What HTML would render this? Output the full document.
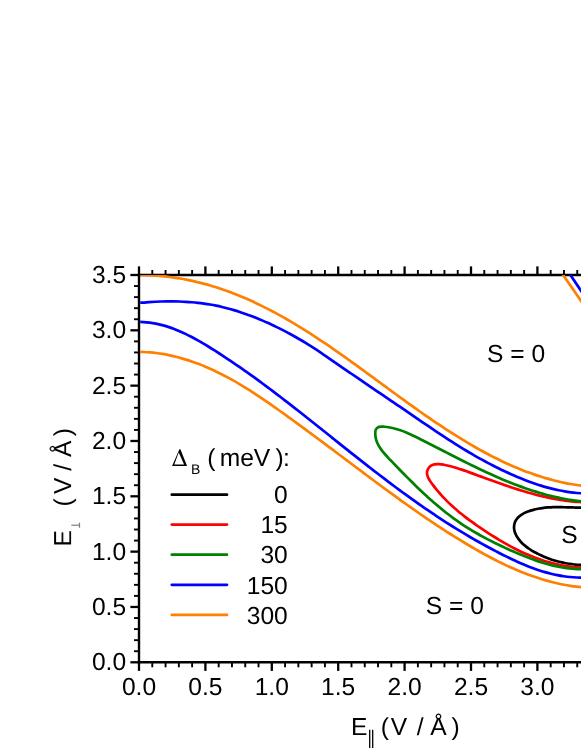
<!DOCTYPE html>
<html><head><meta charset="utf-8"><title>Phase diagram</title>
<style>
html,body{margin:0;padding:0;background:#fff;}
body{width:581px;height:752px;overflow:hidden;}
svg{display:block;}
text{font-family:"Liberation Sans",sans-serif;font-size:24.6px;fill:#000;text-rendering:geometricPrecision;}
</style></head><body>
<svg width="581" height="752" viewBox="0 0 581 752">
<rect width="581" height="752" fill="#fff"/>
<defs><clipPath id="c"><rect x="140.2" y="275" width="460" height="386"/></clipPath></defs>
<g stroke="#000" fill="none">
<line x1="139.00" y1="662.30" x2="139.00" y2="670.90" stroke-width="2.3"/>
<line x1="139.00" y1="275.00" x2="139.00" y2="266.40" stroke-width="2.3"/>
<line x1="152.28" y1="662.30" x2="152.28" y2="667.30" stroke-width="1.9"/>
<line x1="152.28" y1="275.00" x2="152.28" y2="270.00" stroke-width="1.9"/>
<line x1="165.56" y1="662.30" x2="165.56" y2="667.30" stroke-width="1.9"/>
<line x1="165.56" y1="275.00" x2="165.56" y2="270.00" stroke-width="1.9"/>
<line x1="178.84" y1="662.30" x2="178.84" y2="667.30" stroke-width="1.9"/>
<line x1="178.84" y1="275.00" x2="178.84" y2="270.00" stroke-width="1.9"/>
<line x1="192.12" y1="662.30" x2="192.12" y2="667.30" stroke-width="1.9"/>
<line x1="192.12" y1="275.00" x2="192.12" y2="270.00" stroke-width="1.9"/>
<line x1="205.40" y1="662.30" x2="205.40" y2="670.90" stroke-width="2.3"/>
<line x1="205.40" y1="275.00" x2="205.40" y2="266.40" stroke-width="2.3"/>
<line x1="218.68" y1="662.30" x2="218.68" y2="667.30" stroke-width="1.9"/>
<line x1="218.68" y1="275.00" x2="218.68" y2="270.00" stroke-width="1.9"/>
<line x1="231.96" y1="662.30" x2="231.96" y2="667.30" stroke-width="1.9"/>
<line x1="231.96" y1="275.00" x2="231.96" y2="270.00" stroke-width="1.9"/>
<line x1="245.24" y1="662.30" x2="245.24" y2="667.30" stroke-width="1.9"/>
<line x1="245.24" y1="275.00" x2="245.24" y2="270.00" stroke-width="1.9"/>
<line x1="258.52" y1="662.30" x2="258.52" y2="667.30" stroke-width="1.9"/>
<line x1="258.52" y1="275.00" x2="258.52" y2="270.00" stroke-width="1.9"/>
<line x1="271.80" y1="662.30" x2="271.80" y2="670.90" stroke-width="2.3"/>
<line x1="271.80" y1="275.00" x2="271.80" y2="266.40" stroke-width="2.3"/>
<line x1="285.08" y1="662.30" x2="285.08" y2="667.30" stroke-width="1.9"/>
<line x1="285.08" y1="275.00" x2="285.08" y2="270.00" stroke-width="1.9"/>
<line x1="298.36" y1="662.30" x2="298.36" y2="667.30" stroke-width="1.9"/>
<line x1="298.36" y1="275.00" x2="298.36" y2="270.00" stroke-width="1.9"/>
<line x1="311.64" y1="662.30" x2="311.64" y2="667.30" stroke-width="1.9"/>
<line x1="311.64" y1="275.00" x2="311.64" y2="270.00" stroke-width="1.9"/>
<line x1="324.92" y1="662.30" x2="324.92" y2="667.30" stroke-width="1.9"/>
<line x1="324.92" y1="275.00" x2="324.92" y2="270.00" stroke-width="1.9"/>
<line x1="338.20" y1="662.30" x2="338.20" y2="670.90" stroke-width="2.3"/>
<line x1="338.20" y1="275.00" x2="338.20" y2="266.40" stroke-width="2.3"/>
<line x1="351.48" y1="662.30" x2="351.48" y2="667.30" stroke-width="1.9"/>
<line x1="351.48" y1="275.00" x2="351.48" y2="270.00" stroke-width="1.9"/>
<line x1="364.76" y1="662.30" x2="364.76" y2="667.30" stroke-width="1.9"/>
<line x1="364.76" y1="275.00" x2="364.76" y2="270.00" stroke-width="1.9"/>
<line x1="378.04" y1="662.30" x2="378.04" y2="667.30" stroke-width="1.9"/>
<line x1="378.04" y1="275.00" x2="378.04" y2="270.00" stroke-width="1.9"/>
<line x1="391.32" y1="662.30" x2="391.32" y2="667.30" stroke-width="1.9"/>
<line x1="391.32" y1="275.00" x2="391.32" y2="270.00" stroke-width="1.9"/>
<line x1="404.60" y1="662.30" x2="404.60" y2="670.90" stroke-width="2.3"/>
<line x1="404.60" y1="275.00" x2="404.60" y2="266.40" stroke-width="2.3"/>
<line x1="417.88" y1="662.30" x2="417.88" y2="667.30" stroke-width="1.9"/>
<line x1="417.88" y1="275.00" x2="417.88" y2="270.00" stroke-width="1.9"/>
<line x1="431.16" y1="662.30" x2="431.16" y2="667.30" stroke-width="1.9"/>
<line x1="431.16" y1="275.00" x2="431.16" y2="270.00" stroke-width="1.9"/>
<line x1="444.44" y1="662.30" x2="444.44" y2="667.30" stroke-width="1.9"/>
<line x1="444.44" y1="275.00" x2="444.44" y2="270.00" stroke-width="1.9"/>
<line x1="457.72" y1="662.30" x2="457.72" y2="667.30" stroke-width="1.9"/>
<line x1="457.72" y1="275.00" x2="457.72" y2="270.00" stroke-width="1.9"/>
<line x1="471.00" y1="662.30" x2="471.00" y2="670.90" stroke-width="2.3"/>
<line x1="471.00" y1="275.00" x2="471.00" y2="266.40" stroke-width="2.3"/>
<line x1="484.28" y1="662.30" x2="484.28" y2="667.30" stroke-width="1.9"/>
<line x1="484.28" y1="275.00" x2="484.28" y2="270.00" stroke-width="1.9"/>
<line x1="497.56" y1="662.30" x2="497.56" y2="667.30" stroke-width="1.9"/>
<line x1="497.56" y1="275.00" x2="497.56" y2="270.00" stroke-width="1.9"/>
<line x1="510.84" y1="662.30" x2="510.84" y2="667.30" stroke-width="1.9"/>
<line x1="510.84" y1="275.00" x2="510.84" y2="270.00" stroke-width="1.9"/>
<line x1="524.12" y1="662.30" x2="524.12" y2="667.30" stroke-width="1.9"/>
<line x1="524.12" y1="275.00" x2="524.12" y2="270.00" stroke-width="1.9"/>
<line x1="537.40" y1="662.30" x2="537.40" y2="670.90" stroke-width="2.3"/>
<line x1="537.40" y1="275.00" x2="537.40" y2="266.40" stroke-width="2.3"/>
<line x1="550.68" y1="662.30" x2="550.68" y2="667.30" stroke-width="1.9"/>
<line x1="550.68" y1="275.00" x2="550.68" y2="270.00" stroke-width="1.9"/>
<line x1="563.96" y1="662.30" x2="563.96" y2="667.30" stroke-width="1.9"/>
<line x1="563.96" y1="275.00" x2="563.96" y2="270.00" stroke-width="1.9"/>
<line x1="577.24" y1="662.30" x2="577.24" y2="667.30" stroke-width="1.9"/>
<line x1="577.24" y1="275.00" x2="577.24" y2="270.00" stroke-width="1.9"/>
<line x1="139.00" y1="662.30" x2="130.40" y2="662.30" stroke-width="2.3"/>
<line x1="139.00" y1="651.23" x2="134.00" y2="651.23" stroke-width="1.9"/>
<line x1="139.00" y1="640.17" x2="134.00" y2="640.17" stroke-width="1.9"/>
<line x1="139.00" y1="629.10" x2="134.00" y2="629.10" stroke-width="1.9"/>
<line x1="139.00" y1="618.04" x2="134.00" y2="618.04" stroke-width="1.9"/>
<line x1="139.00" y1="606.97" x2="130.40" y2="606.97" stroke-width="2.3"/>
<line x1="139.00" y1="595.90" x2="134.00" y2="595.90" stroke-width="1.9"/>
<line x1="139.00" y1="584.84" x2="134.00" y2="584.84" stroke-width="1.9"/>
<line x1="139.00" y1="573.77" x2="134.00" y2="573.77" stroke-width="1.9"/>
<line x1="139.00" y1="562.71" x2="134.00" y2="562.71" stroke-width="1.9"/>
<line x1="139.00" y1="551.64" x2="130.40" y2="551.64" stroke-width="2.3"/>
<line x1="139.00" y1="540.57" x2="134.00" y2="540.57" stroke-width="1.9"/>
<line x1="139.00" y1="529.51" x2="134.00" y2="529.51" stroke-width="1.9"/>
<line x1="139.00" y1="518.44" x2="134.00" y2="518.44" stroke-width="1.9"/>
<line x1="139.00" y1="507.38" x2="134.00" y2="507.38" stroke-width="1.9"/>
<line x1="139.00" y1="496.31" x2="130.40" y2="496.31" stroke-width="2.3"/>
<line x1="139.00" y1="485.24" x2="134.00" y2="485.24" stroke-width="1.9"/>
<line x1="139.00" y1="474.18" x2="134.00" y2="474.18" stroke-width="1.9"/>
<line x1="139.00" y1="463.11" x2="134.00" y2="463.11" stroke-width="1.9"/>
<line x1="139.00" y1="452.05" x2="134.00" y2="452.05" stroke-width="1.9"/>
<line x1="139.00" y1="440.98" x2="130.40" y2="440.98" stroke-width="2.3"/>
<line x1="139.00" y1="429.91" x2="134.00" y2="429.91" stroke-width="1.9"/>
<line x1="139.00" y1="418.85" x2="134.00" y2="418.85" stroke-width="1.9"/>
<line x1="139.00" y1="407.78" x2="134.00" y2="407.78" stroke-width="1.9"/>
<line x1="139.00" y1="396.72" x2="134.00" y2="396.72" stroke-width="1.9"/>
<line x1="139.00" y1="385.65" x2="130.40" y2="385.65" stroke-width="2.3"/>
<line x1="139.00" y1="374.58" x2="134.00" y2="374.58" stroke-width="1.9"/>
<line x1="139.00" y1="363.52" x2="134.00" y2="363.52" stroke-width="1.9"/>
<line x1="139.00" y1="352.45" x2="134.00" y2="352.45" stroke-width="1.9"/>
<line x1="139.00" y1="341.39" x2="134.00" y2="341.39" stroke-width="1.9"/>
<line x1="139.00" y1="330.32" x2="130.40" y2="330.32" stroke-width="2.3"/>
<line x1="139.00" y1="319.25" x2="134.00" y2="319.25" stroke-width="1.9"/>
<line x1="139.00" y1="308.19" x2="134.00" y2="308.19" stroke-width="1.9"/>
<line x1="139.00" y1="297.12" x2="134.00" y2="297.12" stroke-width="1.9"/>
<line x1="139.00" y1="286.06" x2="134.00" y2="286.06" stroke-width="1.9"/>
<line x1="139.00" y1="274.99" x2="130.40" y2="274.99" stroke-width="2.3"/>
<line x1="139.0" y1="273.8" x2="139.0" y2="663.5" stroke-width="2.4"/>
<line x1="137.8" y1="662.3" x2="590" y2="662.3" stroke-width="2.4"/>
<line x1="137.8" y1="275.0" x2="590" y2="275.0" stroke-width="2.4"/>
</g>
<g clip-path="url(#c)" fill="none" stroke-width="2.7" stroke-linejoin="round" stroke-linecap="butt">
<path d="M584.01,507.52C583.54,507.53 582.15,507.56 581.21,507.57C580.28,507.57 579.35,507.57 578.42,507.56C577.49,507.56 576.56,507.54 575.63,507.53C574.70,507.51 573.77,507.49 572.84,507.47C571.91,507.45 570.98,507.42 570.05,507.39C569.12,507.37 568.19,507.34 567.27,507.32C566.34,507.29 565.41,507.26 564.48,507.24C563.56,507.22 562.63,507.20 561.70,507.19C560.78,507.17 559.85,507.16 558.93,507.15C558.00,507.15 557.08,507.15 556.15,507.16C555.23,507.16 554.31,507.18 553.38,507.20C552.46,507.23 551.54,507.26 550.62,507.31C549.70,507.35 548.78,507.40 547.86,507.47C546.94,507.54 546.02,507.62 545.10,507.71C544.18,507.81 543.26,507.92 542.34,508.04C541.43,508.17 540.51,508.30 539.59,508.46C538.68,508.62 537.76,508.79 536.85,508.99C535.94,509.18 535.02,509.39 534.11,509.63C533.20,509.86 532.28,510.11 531.37,510.39C530.46,510.67 529.55,510.96 528.64,511.29C527.74,511.61 526.83,511.96 525.95,512.34C525.07,512.72 524.19,513.13 523.36,513.57C522.52,514.02 521.71,514.50 520.95,515.03C520.19,515.55 519.46,516.11 518.79,516.73C518.13,517.34 517.52,518.00 516.98,518.71C516.44,519.42 515.96,520.18 515.56,520.97C515.16,521.76 514.83,522.60 514.58,523.45C514.33,524.29 514.16,525.18 514.08,526.06C514.00,526.93 514.00,527.83 514.09,528.72C514.18,529.61 514.37,530.50 514.62,531.38C514.87,532.26 515.20,533.14 515.58,533.99C515.95,534.85 516.40,535.70 516.88,536.52C517.37,537.33 517.90,538.14 518.46,538.91C519.02,539.68 519.62,540.42 520.23,541.13C520.85,541.84 521.49,542.53 522.16,543.19C522.82,543.85 523.51,544.48 524.22,545.09C524.93,545.70 525.66,546.29 526.40,546.86C527.15,547.42 527.91,547.97 528.68,548.50C529.45,549.02 530.24,549.53 531.04,550.03C531.83,550.52 532.64,550.99 533.46,551.46C534.27,551.92 535.09,552.37 535.91,552.81C536.74,553.25 537.57,553.68 538.40,554.09C539.23,554.51 540.07,554.91 540.91,555.30C541.75,555.69 542.60,556.07 543.45,556.44C544.30,556.81 545.15,557.16 546.01,557.50C546.87,557.85 547.73,558.18 548.59,558.50C549.46,558.82 550.33,559.13 551.20,559.42C552.08,559.72 552.95,560.00 553.84,560.27C554.72,560.55 555.60,560.81 556.49,561.05C557.38,561.30 558.27,561.54 559.16,561.76C560.06,561.99 560.96,562.20 561.86,562.40C562.76,562.60 563.66,562.79 564.57,562.97C565.48,563.15 566.39,563.31 567.30,563.47C568.21,563.62 569.13,563.77 570.05,563.90C570.97,564.03 571.89,564.15 572.82,564.25C573.74,564.36 574.67,564.46 575.60,564.54C576.53,564.62 577.46,564.70 578.40,564.76C579.33,564.82 580.27,564.87 581.21,564.90C582.15,564.94 583.56,564.97 584.03,564.98" stroke="#000"/>
<path d="M582.97,502.16C582.22,502.12 579.96,502.03 578.46,501.93C576.96,501.84 575.47,501.72 573.97,501.59C572.48,501.46 570.98,501.30 569.49,501.14C568.00,500.97 566.51,500.78 565.03,500.58C563.54,500.38 562.06,500.16 560.58,499.93C559.09,499.69 557.61,499.44 556.14,499.18C554.66,498.91 553.18,498.64 551.71,498.34C550.24,498.05 548.76,497.74 547.30,497.42C545.83,497.11 544.36,496.77 542.90,496.43C541.43,496.08 539.97,495.73 538.51,495.36C537.05,494.99 535.59,494.61 534.13,494.22C532.68,493.83 531.22,493.43 529.77,493.03C528.32,492.62 526.87,492.20 525.43,491.77C523.98,491.34 522.53,490.91 521.09,490.46C519.65,490.02 518.21,489.57 516.77,489.11C515.33,488.65 513.89,488.18 512.46,487.71C511.03,487.24 509.60,486.76 508.17,486.28C506.74,485.80 505.31,485.31 503.88,484.82C502.46,484.33 501.04,483.83 499.61,483.33C498.19,482.83 496.77,482.32 495.36,481.82C493.94,481.31 492.53,480.80 491.12,480.29C489.70,479.78 488.29,479.27 486.89,478.76C485.48,478.24 484.07,477.73 482.67,477.21C481.27,476.70 479.86,476.19 478.47,475.67C477.07,475.16 475.67,474.65 474.28,474.13C472.88,473.62 471.49,473.11 470.10,472.61C468.71,472.10 467.32,471.59 465.93,471.10C464.54,470.60 463.15,470.11 461.74,469.63C460.33,469.15 458.91,468.68 457.47,468.23C456.03,467.78 454.58,467.34 453.09,466.93C451.61,466.51 450.10,466.11 448.55,465.75C447.01,465.38 445.40,465.01 443.81,464.73C442.22,464.46 440.55,464.17 439.00,464.10C437.45,464.04 435.88,464.03 434.49,464.34C433.10,464.66 431.74,465.16 430.65,465.96C429.56,466.76 428.55,467.96 427.94,469.14C427.33,470.32 426.99,471.72 426.98,473.02C426.97,474.33 427.37,475.66 427.88,476.96C428.38,478.27 429.21,479.58 430.01,480.86C430.82,482.14 431.79,483.42 432.72,484.66C433.64,485.91 434.60,487.13 435.56,488.34C436.52,489.54 437.50,490.72 438.49,491.89C439.48,493.05 440.49,494.19 441.51,495.32C442.53,496.44 443.57,497.55 444.62,498.64C445.67,499.73 446.73,500.80 447.81,501.85C448.88,502.91 449.97,503.94 451.07,504.97C452.17,505.99 453.28,507.00 454.40,507.99C455.52,508.98 456.66,509.96 457.80,510.93C458.95,511.89 460.10,512.85 461.26,513.79C462.43,514.73 463.60,515.66 464.78,516.57C465.96,517.49 467.15,518.40 468.35,519.30C469.55,520.19 470.76,521.08 471.97,521.96C473.19,522.84 474.41,523.71 475.64,524.57C476.86,525.43 478.10,526.29 479.34,527.14C480.58,527.98 481.82,528.82 483.07,529.66C484.32,530.50 485.58,531.33 486.84,532.15C488.10,532.98 489.37,533.80 490.64,534.61C491.91,535.42 493.18,536.22 494.47,537.01C495.75,537.81 497.03,538.60 498.33,539.37C499.62,540.15 500.92,540.92 502.22,541.68C503.52,542.44 504.83,543.18 506.14,543.92C507.46,544.66 508.78,545.39 510.10,546.10C511.43,546.81 512.76,547.52 514.10,548.20C515.43,548.89 516.78,549.57 518.13,550.23C519.47,550.89 520.83,551.54 522.19,552.18C523.55,552.81 524.92,553.43 526.29,554.03C527.66,554.64 529.04,555.22 530.43,555.79C531.81,556.37 533.20,556.92 534.60,557.46C536.00,557.99 537.40,558.51 538.81,559.01C540.22,559.51 541.64,560.00 543.06,560.46C544.49,560.92 545.92,561.36 547.35,561.79C548.79,562.21 550.23,562.61 551.68,562.99C553.13,563.37 554.59,563.73 556.05,564.07C557.52,564.41 558.99,564.72 560.46,565.02C561.94,565.31 563.43,565.58 564.92,565.82C566.41,566.07 567.91,566.29 569.41,566.48C570.92,566.68 572.43,566.85 573.95,567.00C575.47,567.14 577.00,567.26 578.53,567.35C580.07,567.44 582.39,567.51 583.16,567.54" stroke="#f00"/>
<path d="M583.01,501.49C582.09,501.39 579.33,501.10 577.50,500.87C575.67,500.64 573.85,500.38 572.03,500.11C570.22,499.83 568.41,499.54 566.61,499.22C564.81,498.90 563.02,498.56 561.23,498.20C559.44,497.84 557.66,497.46 555.89,497.06C554.11,496.67 552.34,496.25 550.58,495.81C548.82,495.37 547.06,494.92 545.31,494.45C543.56,493.97 541.82,493.48 540.08,492.98C538.34,492.47 536.61,491.95 534.88,491.41C533.15,490.87 531.43,490.31 529.71,489.74C527.99,489.17 526.28,488.58 524.57,487.98C522.86,487.39 521.16,486.77 519.46,486.14C517.76,485.52 516.06,484.87 514.37,484.22C512.68,483.57 510.99,482.90 509.31,482.22C507.62,481.55 505.94,480.86 504.27,480.16C502.59,479.46 500.92,478.75 499.25,478.03C497.58,477.31 495.91,476.57 494.25,475.83C492.59,475.10 490.93,474.35 489.27,473.59C487.61,472.83 485.96,472.07 484.31,471.29C482.65,470.52 481.00,469.74 479.36,468.95C477.71,468.17 476.06,467.37 474.42,466.57C472.77,465.77 471.13,464.97 469.49,464.16C467.85,463.35 466.21,462.53 464.58,461.71C462.94,460.90 461.30,460.07 459.67,459.25C458.03,458.42 456.40,457.59 454.76,456.76C453.13,455.93 451.50,455.09 449.87,454.26C448.23,453.42 446.60,452.59 444.97,451.75C443.34,450.91 441.71,450.07 440.08,449.24C438.45,448.40 436.81,447.56 435.18,446.73C433.55,445.89 431.92,445.05 430.29,444.22C428.65,443.39 427.02,442.55 425.38,441.73C423.75,440.90 422.12,440.07 420.48,439.25C418.84,438.43 417.21,437.60 415.56,436.80C413.92,436.00 412.27,435.20 410.61,434.45C408.95,433.69 407.29,432.95 405.60,432.27C403.92,431.58 402.23,430.92 400.51,430.33C398.79,429.74 397.06,429.19 395.30,428.72C393.53,428.25 391.75,427.83 389.94,427.51C388.13,427.18 386.24,426.88 384.42,426.77C382.60,426.67 380.47,426.40 379.02,426.89C377.58,427.39 376.37,428.39 375.75,429.75C375.14,431.12 375.25,433.34 375.34,435.07C375.42,436.81 375.78,438.51 376.27,440.15C376.76,441.79 377.46,443.36 378.26,444.90C379.07,446.44 380.04,447.92 381.08,449.39C382.12,450.85 383.29,452.27 384.49,453.68C385.69,455.09 386.98,456.46 388.26,457.83C389.54,459.21 390.87,460.56 392.17,461.92C393.48,463.28 394.78,464.63 396.08,465.97C397.38,467.32 398.68,468.66 399.98,469.99C401.27,471.33 402.57,472.66 403.87,473.98C405.17,475.30 406.46,476.61 407.76,477.92C409.07,479.22 410.37,480.52 411.67,481.81C412.97,483.11 414.28,484.39 415.59,485.66C416.90,486.94 418.21,488.20 419.53,489.46C420.85,490.72 422.17,491.97 423.50,493.20C424.83,494.44 426.16,495.67 427.50,496.89C428.84,498.10 430.18,499.31 431.54,500.51C432.89,501.70 434.25,502.89 435.62,504.06C436.99,505.23 438.36,506.39 439.75,507.54C441.14,508.69 442.53,509.83 443.94,510.95C445.35,512.08 446.76,513.19 448.19,514.29C449.62,515.38 451.06,516.47 452.51,517.54C453.97,518.61 455.43,519.66 456.91,520.71C458.39,521.75 459.88,522.77 461.38,523.79C462.89,524.80 464.41,525.79 465.94,526.77C467.48,527.75 469.02,528.72 470.58,529.67C472.14,530.62 473.72,531.56 475.30,532.48C476.88,533.40 478.48,534.31 480.08,535.21C481.68,536.10 483.30,536.98 484.92,537.85C486.54,538.72 488.17,539.57 489.81,540.41C491.44,541.25 493.09,542.08 494.74,542.90C496.39,543.71 498.04,544.52 499.70,545.31C501.36,546.10 503.03,546.88 504.70,547.65C506.37,548.42 508.04,549.18 509.71,549.92C511.38,550.67 513.06,551.40 514.74,552.13C516.41,552.85 518.09,553.57 519.77,554.27C521.45,554.97 523.13,555.66 524.81,556.33C526.49,557.00 528.18,557.66 529.87,558.30C531.56,558.93 533.26,559.56 534.96,560.15C536.66,560.75 538.36,561.33 540.08,561.88C541.79,562.44 543.51,562.97 545.24,563.47C546.97,563.97 548.70,564.45 550.45,564.90C552.19,565.35 553.95,565.77 555.71,566.16C557.48,566.54 559.25,566.90 561.04,567.22C562.83,567.54 564.63,567.83 566.44,568.08C568.26,568.32 570.08,568.54 571.92,568.71C573.76,568.88 575.62,569.01 577.49,569.10C579.36,569.19 582.20,569.22 583.15,569.24" stroke="#008000"/>
<path d="M87.90,301.95C88.92,301.83 91.98,301.39 94.02,301.23C96.05,301.07 98.09,301.01 100.13,300.99C102.17,300.98 104.22,301.04 106.26,301.12C108.30,301.20 110.34,301.35 112.38,301.49C114.42,301.63 116.46,301.81 118.50,301.96C120.53,302.12 122.57,302.29 124.61,302.43C126.65,302.56 128.68,302.68 130.72,302.75C132.75,302.82 134.79,302.85 136.82,302.82C138.86,302.79 140.89,302.68 142.93,302.56C144.96,302.45 147.00,302.26 149.03,302.13C151.07,301.99 153.11,301.86 155.15,301.75C157.19,301.65 159.23,301.56 161.28,301.50C163.32,301.43 165.36,301.39 167.40,301.37C169.44,301.34 171.49,301.34 173.53,301.37C175.57,301.39 177.61,301.43 179.65,301.50C181.69,301.58 183.73,301.67 185.76,301.79C187.80,301.91 189.83,302.05 191.86,302.23C193.89,302.40 195.92,302.60 197.94,302.83C199.97,303.05 201.99,303.31 204.00,303.59C206.02,303.88 208.03,304.19 210.04,304.53C212.04,304.88 214.05,305.25 216.04,305.66C218.04,306.06 220.03,306.50 222.01,306.97C224.00,307.43 225.98,307.93 227.95,308.46C229.92,308.98 231.89,309.53 233.85,310.11C235.81,310.69 237.76,311.30 239.71,311.93C241.65,312.56 243.59,313.22 245.53,313.90C247.46,314.57 249.38,315.28 251.30,316.01C253.21,316.73 255.12,317.48 257.02,318.25C258.92,319.02 260.81,319.81 262.69,320.62C264.58,321.43 266.45,322.26 268.31,323.10C270.18,323.95 272.03,324.82 273.88,325.70C275.73,326.58 277.56,327.47 279.39,328.39C281.22,329.30 283.03,330.23 284.84,331.17C286.65,332.11 288.44,333.06 290.23,334.03C292.02,335.00 293.79,335.98 295.56,336.98C297.33,337.98 299.09,339.00 300.84,340.03C302.59,341.06 304.33,342.11 306.06,343.17C307.79,344.23 309.52,345.31 311.23,346.41C312.95,347.50 314.66,348.62 316.36,349.74C318.06,350.86 319.76,352.00 321.45,353.14C323.15,354.29 324.83,355.44 326.52,356.60C328.21,357.75 329.89,358.92 331.57,360.08C333.26,361.24 334.94,362.41 336.62,363.57C338.31,364.74 339.99,365.90 341.67,367.06C343.36,368.22 345.04,369.38 346.73,370.54C348.41,371.69 350.10,372.85 351.78,374.00C353.47,375.16 355.16,376.31 356.84,377.47C358.53,378.62 360.22,379.77 361.91,380.92C363.59,382.07 365.28,383.22 366.97,384.37C368.66,385.52 370.35,386.67 372.03,387.81C373.72,388.96 375.41,390.11 377.10,391.26C378.79,392.40 380.47,393.55 382.16,394.70C383.85,395.84 385.54,396.99 387.23,398.14C388.91,399.28 390.60,400.43 392.29,401.58C393.98,402.72 395.66,403.87 397.35,405.02C399.04,406.17 400.72,407.31 402.41,408.46C404.09,409.61 405.78,410.76 407.46,411.91C409.15,413.06 410.83,414.21 412.52,415.36C414.20,416.51 415.88,417.67 417.57,418.82C419.25,419.97 420.93,421.12 422.62,422.27C424.30,423.42 425.99,424.56 427.68,425.71C429.37,426.85 431.06,428.00 432.75,429.14C434.44,430.27 436.13,431.41 437.83,432.54C439.53,433.67 441.23,434.80 442.93,435.92C444.64,437.04 446.35,438.16 448.06,439.27C449.77,440.38 451.49,441.48 453.21,442.58C454.93,443.67 456.66,444.76 458.39,445.84C460.13,446.92 461.87,447.99 463.61,449.06C465.36,450.12 467.11,451.17 468.87,452.22C470.62,453.26 472.39,454.29 474.16,455.31C475.93,456.33 477.71,457.35 479.49,458.34C481.28,459.34 483.07,460.33 484.87,461.30C486.67,462.27 488.47,463.23 490.28,464.18C492.10,465.13 493.91,466.06 495.74,466.98C497.57,467.89 499.40,468.79 501.24,469.68C503.08,470.57 504.92,471.44 506.78,472.29C508.63,473.14 510.49,473.98 512.36,474.80C514.23,475.62 516.11,476.42 517.99,477.20C519.87,477.98 521.76,478.74 523.66,479.49C525.56,480.23 527.47,480.96 529.38,481.66C531.29,482.36 533.21,483.04 535.14,483.70C537.07,484.36 539.01,484.99 540.95,485.60C542.90,486.21 544.85,486.79 546.81,487.34C548.77,487.89 550.74,488.41 552.72,488.90C554.70,489.38 556.68,489.84 558.68,490.26C560.67,490.68 562.68,491.06 564.69,491.40C566.70,491.75 568.72,492.05 570.75,492.32C572.78,492.58 574.82,492.80 576.87,492.98C578.92,493.15 582.02,493.30 583.04,493.37" stroke="#00f"/>
<path d="M87.95,337.10C88.87,336.51 91.58,334.68 93.46,333.59C95.34,332.49 97.27,331.48 99.23,330.54C101.19,329.60 103.19,328.74 105.21,327.96C107.23,327.18 109.29,326.47 111.36,325.84C113.43,325.21 115.53,324.66 117.64,324.18C119.75,323.70 121.89,323.30 124.02,322.97C126.16,322.65 128.31,322.40 130.45,322.22C132.60,322.05 134.75,321.95 136.90,321.92C139.04,321.89 141.19,321.94 143.32,322.07C145.45,322.19 147.57,322.39 149.68,322.66C151.78,322.92 153.87,323.27 155.94,323.68C158.01,324.09 160.07,324.57 162.11,325.10C164.15,325.64 166.18,326.24 168.19,326.90C170.20,327.55 172.20,328.26 174.19,329.02C176.17,329.78 178.14,330.59 180.10,331.44C182.06,332.29 184.01,333.19 185.95,334.12C187.88,335.06 189.80,336.03 191.72,337.03C193.63,338.03 195.53,339.07 197.42,340.13C199.31,341.19 201.19,342.28 203.07,343.39C204.94,344.49 206.80,345.62 208.65,346.76C210.51,347.90 212.35,349.06 214.19,350.22C216.03,351.38 217.86,352.56 219.68,353.74C221.50,354.91 223.32,356.10 225.12,357.29C226.93,358.49 228.73,359.68 230.53,360.89C232.32,362.10 234.11,363.31 235.89,364.53C237.67,365.75 239.45,366.97 241.22,368.21C242.98,369.44 244.75,370.67 246.50,371.92C248.26,373.16 250.01,374.41 251.76,375.66C253.51,376.92 255.25,378.17 256.99,379.44C258.72,380.70 260.46,381.97 262.18,383.24C263.91,384.52 265.63,385.80 267.35,387.08C269.07,388.36 270.79,389.65 272.50,390.94C274.21,392.23 275.92,393.53 277.62,394.82C279.33,396.12 281.03,397.42 282.73,398.73C284.43,400.04 286.12,401.34 287.81,402.66C289.51,403.97 291.20,405.28 292.89,406.60C294.57,407.92 296.26,409.24 297.94,410.56C299.63,411.88 301.31,413.21 302.99,414.54C304.67,415.86 306.35,417.19 308.03,418.52C309.71,419.86 311.39,421.19 313.07,422.52C314.74,423.86 316.42,425.19 318.09,426.53C319.77,427.87 321.45,429.20 323.12,430.54C324.80,431.88 326.47,433.22 328.15,434.56C329.83,435.90 331.50,437.24 333.18,438.58C334.86,439.92 336.54,441.26 338.22,442.60C339.90,443.94 341.58,445.28 343.26,446.62C344.94,447.96 346.63,449.30 348.31,450.64C350.00,451.97 351.68,453.31 353.37,454.65C355.06,455.98 356.75,457.31 358.44,458.65C360.13,459.98 361.83,461.31 363.52,462.64C365.22,463.96 366.91,465.29 368.61,466.61C370.31,467.94 372.02,469.26 373.72,470.57C375.43,471.89 377.13,473.21 378.84,474.52C380.55,475.83 382.26,477.14 383.98,478.44C385.69,479.74 387.41,481.04 389.13,482.34C390.85,483.64 392.58,484.93 394.30,486.22C396.03,487.50 397.76,488.79 399.49,490.06C401.23,491.34 402.96,492.61 404.70,493.88C406.44,495.15 408.19,496.41 409.93,497.67C411.68,498.92 413.43,500.17 415.19,501.42C416.94,502.66 418.70,503.90 420.46,505.13C422.23,506.36 423.99,507.59 425.76,508.80C427.53,510.02 429.31,511.23 431.09,512.43C432.87,513.64 434.65,514.83 436.44,516.02C438.23,517.21 440.02,518.39 441.82,519.56C443.62,520.74 445.42,521.90 447.23,523.06C449.04,524.21 450.85,525.36 452.67,526.50C454.49,527.64 456.31,528.76 458.14,529.88C459.97,531.00 461.80,532.12 463.64,533.22C465.48,534.32 467.32,535.41 469.17,536.49C471.02,537.57 472.88,538.64 474.74,539.71C476.60,540.77 478.47,541.82 480.34,542.87C482.22,543.91 484.10,544.94 485.98,545.97C487.87,546.99 489.76,548.01 491.66,549.02C493.55,550.02 495.46,551.02 497.37,552.01C499.28,553.00 501.20,553.98 503.12,554.95C505.05,555.91 506.98,556.88 508.92,557.82C510.85,558.76 512.80,559.69 514.76,560.59C516.71,561.50 518.67,562.39 520.65,563.25C522.62,564.10 524.60,564.94 526.60,565.75C528.59,566.55 530.60,567.33 532.61,568.07C534.63,568.81 536.65,569.52 538.69,570.18C540.72,570.85 542.77,571.49 544.83,572.08C546.89,572.67 548.96,573.22 551.04,573.73C553.12,574.24 555.21,574.70 557.31,575.12C559.41,575.53 561.52,575.91 563.65,576.23C565.77,576.54 567.90,576.82 570.05,577.03C572.19,577.24 574.35,577.41 576.52,577.51C578.69,577.62 581.96,577.63 583.05,577.65" stroke="#00f"/>
<path d="M568.1,271.5L590,304.2" stroke="#00f"/>
<path d="M87.51,281.15C88.54,280.91 91.62,280.17 93.68,279.72C95.73,279.28 97.79,278.87 99.85,278.49C101.92,278.11 103.98,277.77 106.05,277.45C108.11,277.14 110.18,276.85 112.25,276.60C114.32,276.34 116.39,276.12 118.46,275.93C120.53,275.73 122.60,275.57 124.67,275.43C126.74,275.30 128.81,275.19 130.89,275.12C132.96,275.04 135.03,274.99 137.10,274.98C139.17,274.96 141.24,274.97 143.30,275.00C145.37,275.04 147.44,275.10 149.50,275.20C151.56,275.29 153.63,275.41 155.69,275.55C157.75,275.70 159.80,275.87 161.86,276.07C163.91,276.26 165.96,276.49 168.01,276.74C170.05,276.99 172.10,277.26 174.14,277.56C176.18,277.86 178.21,278.19 180.24,278.53C182.27,278.88 184.30,279.26 186.32,279.65C188.34,280.05 190.36,280.47 192.37,280.92C194.38,281.36 196.38,281.83 198.38,282.32C200.37,282.81 202.37,283.32 204.35,283.85C206.34,284.39 208.31,284.94 210.28,285.52C212.25,286.10 214.22,286.70 216.17,287.32C218.13,287.94 220.07,288.58 222.01,289.24C223.95,289.90 225.89,290.59 227.81,291.29C229.74,291.99 231.65,292.71 233.56,293.45C235.48,294.19 237.38,294.95 239.27,295.72C241.17,296.50 243.06,297.29 244.94,298.10C246.82,298.91 248.70,299.74 250.57,300.59C252.44,301.43 254.30,302.29 256.16,303.17C258.01,304.04 259.86,304.94 261.70,305.85C263.55,306.75 265.38,307.68 267.21,308.61C269.04,309.55 270.87,310.50 272.69,311.47C274.50,312.43 276.32,313.41 278.12,314.40C279.93,315.39 281.73,316.40 283.53,317.41C285.32,318.43 287.11,319.46 288.89,320.49C290.68,321.53 292.46,322.59 294.23,323.65C296.01,324.71 297.77,325.78 299.54,326.86C301.30,327.94 303.06,329.04 304.81,330.14C306.57,331.24 308.31,332.35 310.06,333.47C311.80,334.58 313.54,335.71 315.28,336.84C317.01,337.98 318.74,339.12 320.47,340.27C322.19,341.42 323.91,342.58 325.63,343.74C327.35,344.90 329.06,346.07 330.77,347.24C332.48,348.41 334.18,349.59 335.89,350.78C337.59,351.96 339.28,353.15 340.98,354.34C342.67,355.54 344.36,356.73 346.05,357.93C347.74,359.13 349.42,360.34 351.11,361.55C352.79,362.75 354.47,363.96 356.14,365.17C357.82,366.39 359.50,367.60 361.17,368.82C362.84,370.04 364.51,371.26 366.18,372.48C367.85,373.70 369.52,374.92 371.19,376.14C372.86,377.36 374.52,378.59 376.19,379.81C377.85,381.03 379.52,382.26 381.18,383.48C382.85,384.70 384.51,385.93 386.18,387.15C387.84,388.37 389.51,389.59 391.17,390.81C392.84,392.03 394.51,393.25 396.17,394.47C397.84,395.68 399.51,396.90 401.18,398.11C402.85,399.32 404.52,400.53 406.19,401.74C407.86,402.95 409.54,404.15 411.21,405.35C412.89,406.55 414.57,407.75 416.25,408.94C417.93,410.13 419.62,411.32 421.30,412.50C422.99,413.68 424.68,414.86 426.37,416.04C428.07,417.21 429.76,418.38 431.46,419.54C433.16,420.70 434.87,421.86 436.58,423.01C438.28,424.16 440.00,425.30 441.71,426.44C443.43,427.57 445.15,428.70 446.88,429.82C448.61,430.95 450.34,432.06 452.07,433.17C453.81,434.27 455.55,435.37 457.30,436.46C459.05,437.55 460.80,438.63 462.56,439.70C464.32,440.78 466.09,441.84 467.86,442.89C469.64,443.94 471.41,444.99 473.20,446.02C474.98,447.05 476.78,448.07 478.58,449.08C480.37,450.08 482.18,451.08 483.99,452.06C485.80,453.04 487.62,454.01 489.45,454.97C491.27,455.92 493.11,456.86 494.95,457.79C496.79,458.71 498.63,459.63 500.49,460.52C502.34,461.41 504.20,462.29 506.07,463.15C507.94,464.01 509.82,464.86 511.70,465.68C513.59,466.51 515.48,467.32 517.38,468.10C519.28,468.89 521.19,469.66 523.10,470.41C525.02,471.16 526.94,471.89 528.87,472.59C530.81,473.30 532.74,473.99 534.69,474.65C536.64,475.32 538.60,475.96 540.56,476.58C542.53,477.20 544.50,477.79 546.48,478.36C548.46,478.93 550.45,479.48 552.45,480.00C554.45,480.53 556.46,481.02 558.48,481.49C560.49,481.96 562.52,482.41 564.56,482.83C566.59,483.24 568.64,483.64 570.69,484.00C572.74,484.36 574.80,484.69 576.88,485.00C578.95,485.30 582.08,485.69 583.12,485.83" stroke="#ff8000"/>
<path d="M87.87,361.29C88.87,360.93 91.88,359.78 93.90,359.10C95.92,358.42 97.96,357.78 100.00,357.20C102.04,356.62 104.10,356.08 106.16,355.60C108.22,355.11 110.29,354.67 112.37,354.28C114.44,353.90 116.53,353.55 118.61,353.26C120.70,352.97 122.79,352.72 124.88,352.52C126.98,352.33 129.08,352.17 131.17,352.07C133.27,351.96 135.37,351.91 137.47,351.90C139.57,351.88 141.67,351.92 143.76,352.00C145.85,352.08 147.95,352.21 150.04,352.38C152.12,352.55 154.21,352.77 156.29,353.03C158.37,353.29 160.44,353.59 162.51,353.93C164.58,354.28 166.64,354.66 168.70,355.09C170.76,355.51 172.81,355.97 174.85,356.47C176.89,356.97 178.93,357.51 180.96,358.08C182.98,358.65 185.00,359.25 187.01,359.89C189.02,360.53 191.02,361.20 193.02,361.90C195.01,362.60 196.99,363.34 198.96,364.10C200.93,364.86 202.89,365.65 204.84,366.46C206.79,367.28 208.72,368.12 210.65,368.99C212.57,369.85 214.49,370.74 216.39,371.66C218.29,372.57 220.17,373.51 222.05,374.46C223.92,375.42 225.79,376.40 227.64,377.39C229.49,378.39 231.33,379.41 233.16,380.44C234.99,381.47 236.81,382.53 238.62,383.59C240.44,384.66 242.24,385.75 244.03,386.85C245.82,387.94 247.61,389.06 249.39,390.18C251.16,391.31 252.93,392.45 254.70,393.60C256.46,394.75 258.21,395.91 259.96,397.08C261.71,398.26 263.46,399.44 265.20,400.63C266.93,401.82 268.67,403.02 270.40,404.22C272.13,405.43 273.85,406.64 275.57,407.86C277.29,409.07 279.01,410.30 280.72,411.52C282.44,412.75 284.15,413.98 285.86,415.21C287.57,416.44 289.28,417.68 290.99,418.91C292.69,420.15 294.40,421.39 296.10,422.63C297.80,423.87 299.50,425.11 301.20,426.36C302.90,427.60 304.60,428.85 306.29,430.10C307.99,431.35 309.68,432.60 311.38,433.85C313.07,435.10 314.76,436.36 316.45,437.61C318.14,438.87 319.83,440.12 321.52,441.38C323.20,442.64 324.89,443.90 326.58,445.16C328.26,446.42 329.95,447.68 331.63,448.94C333.32,450.20 335.00,451.47 336.68,452.73C338.37,453.99 340.05,455.26 341.73,456.52C343.41,457.79 345.09,459.05 346.77,460.31C348.46,461.58 350.14,462.84 351.82,464.11C353.50,465.37 355.18,466.64 356.86,467.90C358.54,469.16 360.23,470.43 361.91,471.69C363.59,472.95 365.28,474.21 366.96,475.47C368.64,476.73 370.33,477.99 372.02,479.24C373.70,480.50 375.39,481.75 377.08,483.01C378.77,484.26 380.46,485.51 382.15,486.76C383.84,488.00 385.54,489.25 387.23,490.49C388.93,491.74 390.63,492.98 392.33,494.21C394.03,495.45 395.73,496.69 397.43,497.92C399.14,499.15 400.84,500.38 402.55,501.60C404.26,502.82 405.97,504.04 407.69,505.26C409.41,506.48 411.12,507.69 412.85,508.90C414.57,510.10 416.29,511.31 418.02,512.51C419.75,513.70 421.48,514.90 423.22,516.09C424.95,517.28 426.69,518.46 428.43,519.64C430.18,520.82 431.92,521.99 433.67,523.16C435.43,524.33 437.18,525.49 438.94,526.64C440.70,527.80 442.47,528.95 444.24,530.09C446.01,531.24 447.78,532.37 449.56,533.50C451.34,534.64 453.12,535.76 454.91,536.88C456.70,537.99 458.50,539.10 460.30,540.20C462.10,541.31 463.90,542.40 465.72,543.49C467.53,544.57 469.34,545.65 471.17,546.72C472.99,547.79 474.82,548.85 476.66,549.90C478.49,550.95 480.33,551.98 482.18,553.01C484.03,554.03 485.88,555.04 487.75,556.04C489.61,557.04 491.47,558.02 493.35,558.99C495.22,559.96 497.11,560.91 498.99,561.85C500.88,562.78 502.78,563.70 504.68,564.60C506.58,565.50 508.49,566.39 510.41,567.25C512.33,568.11 514.25,568.95 516.18,569.78C518.12,570.60 520.06,571.40 522.00,572.18C523.95,572.96 525.91,573.71 527.87,574.44C529.83,575.18 531.81,575.89 533.79,576.57C535.77,577.25 537.75,577.91 539.75,578.54C541.75,579.17 543.75,579.77 545.76,580.35C547.78,580.93 549.80,581.47 551.83,581.99C553.86,582.51 555.90,583.00 557.95,583.46C560.00,583.91 562.06,584.34 564.13,584.73C566.19,585.13 568.27,585.49 570.36,585.82C572.44,586.15 574.54,586.44 576.64,586.70C578.75,586.96 581.93,587.26 582.99,587.37" stroke="#ff8000"/>
<path d="M560.7,271.5L590,314" stroke="#ff8000"/>
</g>
<g opacity="0.999">
<g>
<text x="139.0" y="695.2" text-anchor="middle">0.0</text>
<text x="205.4" y="695.2" text-anchor="middle">0.5</text>
<text x="271.8" y="695.2" text-anchor="middle">1.0</text>
<text x="338.2" y="695.2" text-anchor="middle">1.5</text>
<text x="404.6" y="695.2" text-anchor="middle">2.0</text>
<text x="471.0" y="695.2" text-anchor="middle">2.5</text>
<text x="537.4" y="695.2" text-anchor="middle">3.0</text>
<text x="126.1" y="670.2" text-anchor="end">0.0</text>
<text x="126.1" y="614.9" text-anchor="end">0.5</text>
<text x="126.1" y="559.5" text-anchor="end">1.0</text>
<text x="126.1" y="504.2" text-anchor="end">1.5</text>
<text x="126.1" y="448.9" text-anchor="end">2.0</text>
<text x="126.1" y="393.5" text-anchor="end">2.5</text>
<text x="126.1" y="338.2" text-anchor="end">3.0</text>
<text x="126.1" y="282.9" text-anchor="end">3.5</text>
</g>
<g>
<line x1="171.8" y1="494.7" x2="227" y2="494.7" stroke="#000" stroke-width="2.7" stroke-linecap="round"/>
<text x="287.8" y="503.4" text-anchor="end">0</text>
<line x1="171.8" y1="524.6" x2="227" y2="524.6" stroke="#f00" stroke-width="2.7" stroke-linecap="round"/>
<text x="287.8" y="533.3" text-anchor="end">15</text>
<line x1="171.8" y1="554.7" x2="227" y2="554.7" stroke="#008000" stroke-width="2.7" stroke-linecap="round"/>
<text x="287.8" y="563.4" text-anchor="end">30</text>
<line x1="171.8" y1="584.8" x2="227" y2="584.8" stroke="#00f" stroke-width="2.7" stroke-linecap="round"/>
<text x="287.8" y="593.5" text-anchor="end">150</text>
<line x1="171.8" y1="614.9" x2="227" y2="614.9" stroke="#ff8000" stroke-width="2.7" stroke-linecap="round"/>
<text x="287.8" y="623.6" text-anchor="end">300</text>
</g>
<!-- legend header -->
<path d="M172.1,465.9 L179.4,449.3 L180.4,449.3 L187.1,465.9 Z M174.3,464.6 L184.1,464.6 L178.7,452.6 Z" fill="#000" fill-rule="evenodd"/>
<text x="191" y="474.1" style="font-size:14px">B</text>
<text y="466"><tspan x="207.2">(</tspan><tspan x="219.7">meV</tspan><tspan x="275.5">)</tspan><tspan x="283">:</tspan></text>
<!-- annotations -->
<text x="487" y="361.6">S = 0</text>
<text x="425.8" y="613.6">S = 0</text>
<text x="561.3" y="543.4">S</text>
<!-- x axis title -->
<text y="734.5"><tspan x="351">E</tspan><tspan x="380.7">(</tspan><tspan x="390.8">V</tspan><tspan x="416.7">/</tspan><tspan x="430.3">Å</tspan><tspan x="451.5">)</tspan></text>
<g stroke="#000" stroke-width="1.3"><line x1="369.7" y1="729.8" x2="369.7" y2="748"/><line x1="372.7" y1="729.8" x2="372.7" y2="748"/></g>
<!-- y axis title -->
<g transform="translate(71.1,0) rotate(-90)">
<text y="0"><tspan x="-546.6">E</tspan><tspan x="-506.6">(</tspan><tspan x="-494">V</tspan><tspan x="-470.8">/</tspan><tspan x="-457">Å</tspan><tspan x="-436.2">)</tspan></text>
<g stroke="#7a7a7a" stroke-width="1.15" fill="none"><line x1="-527.8" y1="8.4" x2="-522.6" y2="8.4"/><line x1="-525.2" y1="8.4" x2="-525.2" y2="0.2"/></g>
</g>
</g>
</svg>
</body></html>
